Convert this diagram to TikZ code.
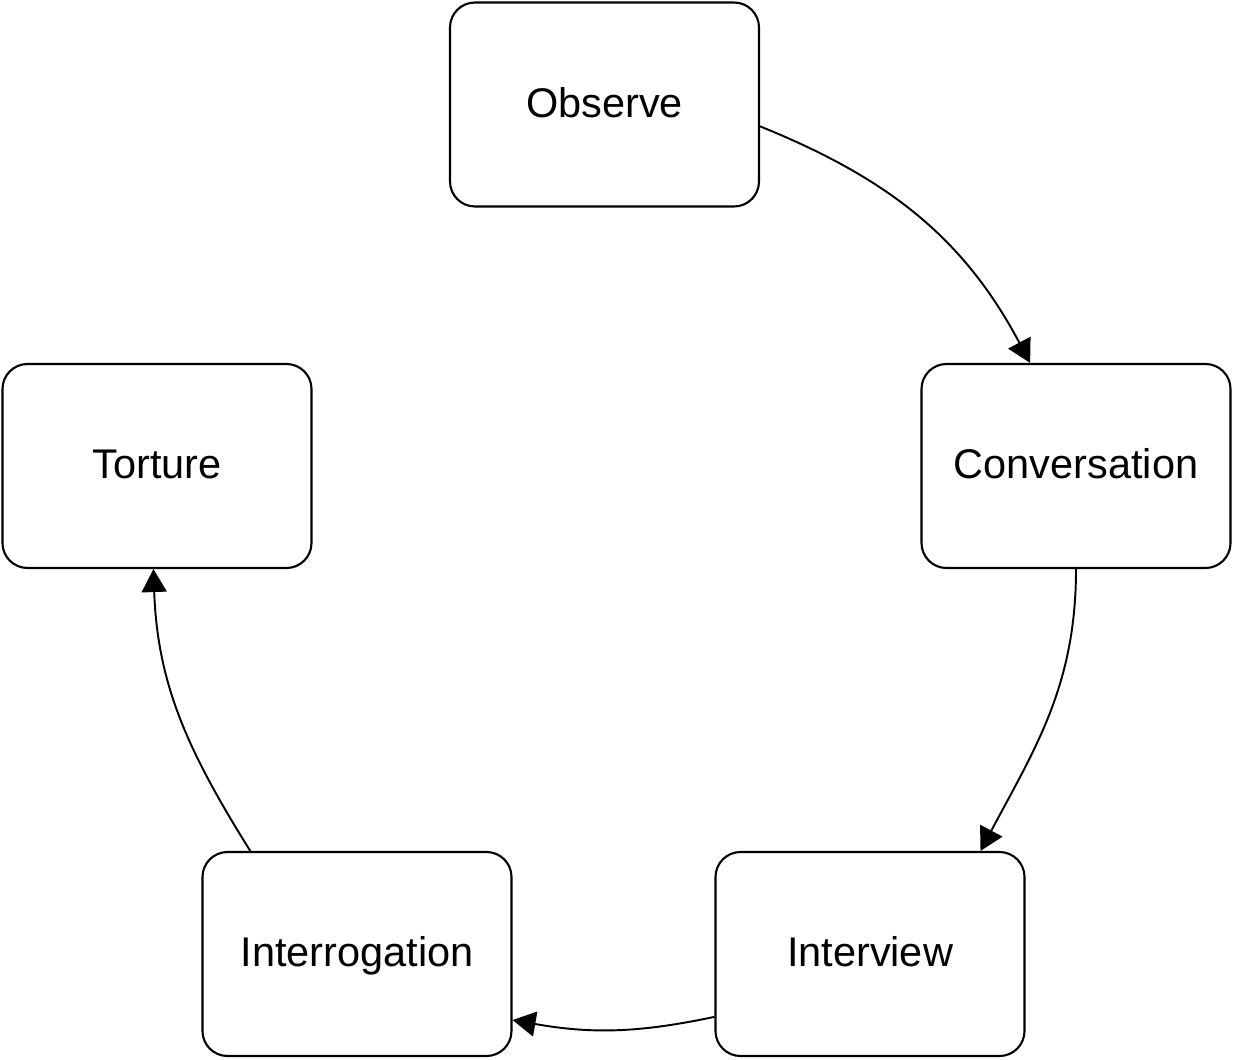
\documentclass[tikz,border=0pt]{standalone}
\usepackage{fontspec}
\setmainfont{Liberation Sans}
\usepackage{tikz}
\usetikzlibrary{arrows.meta}
\usetikzlibrary{positioning}

\tikzset{
    stage/.style={draw, line width=0.6pt, rounded corners=0.25cm,
        minimum width=3.09cm, minimum height=2.04cm, text height=0.716em, text depth=0pt,
        font=\fontsize{11.8}{14}\selectfont},
    flow/.style={line width=0.55pt, -{Triangle[length=0.23cm,width=0.25cm]}}
}

\begin{document}
\begin{tikzpicture}
        \useasboundingbox (0,0) rectangle (12.33,10.59);

        \node[stage] (observe) at (6.045,9.545) {Observe};
        \node[stage] (conversation) at (10.76,5.93) {Conversation};
        \node[stage] (torture) at (1.57,5.93) {Torture};
        \node[stage] (interview) at (8.70,1.05) {Interview};
        \node[stage] (interrogation) at (3.57,1.05) {Interrogation};

        \draw[flow] (observe.-8) to[out=-22,in=118] (conversation.114);
        \draw[flow] (conversation.south) to[out=-90,in=62] (interview.43);
        \draw[flow] (interview.202) to[out=192,in=-10] (interrogation.-23);
        \draw[flow] (interrogation.136) to[out=122,in=-88] (torture.268);
    \end{tikzpicture}
\end{document}
